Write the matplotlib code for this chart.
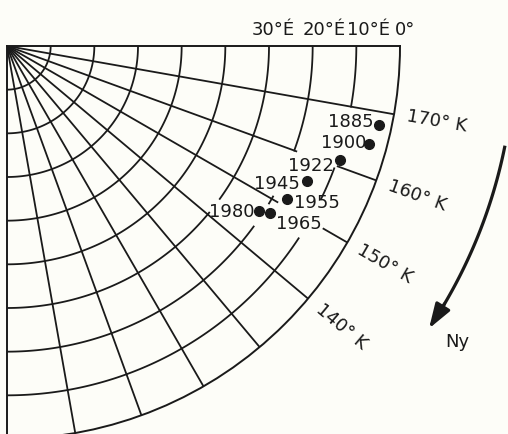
import numpy as np
import matplotlib.pyplot as plt

# pole positions (lat °N, lon °E)
years = [1885, 1900, 1922, 1945, 1955, 1965, 1980]
pole_lat = [2.9, 4.1, 9.4, 14.7, 16.9, 18.7, 21.0]
pole_lon = [168.0, 164.9, 161.1, 155.8, 151.4, 147.6, 146.8]
# where each year label sits relative to its dot (pixels)
label_dx = [-28, -25, -29, -30, 30, 29, -27]
label_dy = [3, 1, -6, -3, -4, -11, -1]

meridians = [170, 160, 150, 140, 130, 120, 110, 100]
parallels = [80, 70, 60, 50, 40, 30, 20, 10]
lat_labels = ['30°É', '20°É', '10°É', '0°']
lat_label_vals = [30, 20, 10, 0]
lat_label_dx = [4, 12, 12, 5]
lon_labels = ['170° K', '160° K', '150° K', '140° K']
lon_label_vals = [170, 160, 150, 140]

# grid lines that are broken around the labels: drawn pieces only
meridian_parts = {160: [(90, 19.5), (9.4, 0)],
                  150: [(90, 18.5), (6.3, 0)]}
parallel_parts = {10: [(180, 170), (159.5, 154), (146.6, 90)],
                  20: [(180, 160), (150.5, 149), (143.8, 90)],
                  30: [(180, 144.3), (140.5, 90)]}

ink = '#1a1a1a'
paper = '#fdfdf8'
fs = 13

fig = plt.figure(figsize=(5.08, 4.34), dpi=100, facecolor=paper)
ax = fig.add_axes([7 / 508, -5 / 434, 393 / 508, 393 / 434], projection='polar')
ax.set_facecolor(paper)
ax.set_theta_offset(-np.pi)
ax.set_thetamin(90)
ax.set_thetamax(180)
ax.set_rlim(0, 90)
ax.set_xticks([])
ax.set_yticks([])
ax.grid(False)
for s in ax.spines.values():
    s.set_color(ink)
    s.set_linewidth(1.4)

# meridians
for lon in meridians:
    parts = meridian_parts.get(lon, [(90, 0)])
    for la0, la1 in parts:
        ax.plot([np.radians(lon)] * 2, [90 - la0, 90 - la1], color=ink, lw=1.3)

# parallels
for lat in parallels:
    parts = parallel_parts.get(lat, [(180, 90)])
    for lo0, lo1 in parts:
        th = np.radians(np.linspace(lo0, lo1, 100))
        ax.plot(th, np.full(th.size, 90 - lat), color=ink, lw=1.3)

# pole positions
ax.plot(np.radians(pole_lon), 90 - np.array(pole_lat), 'o', ms=7, color=ink)
for y, la, lo, dx, dy in zip(years, pole_lat, pole_lon, label_dx, label_dy):
    ax.annotate(str(y), xy=(np.radians(lo), 90 - la), xytext=(dx, dy),
                textcoords='offset pixels', ha='center', va='center',
                fontsize=fs, color=ink)

# latitude labels along the top edge
for txt, la, dx in zip(lat_labels, lat_label_vals, lat_label_dx):
    ax.annotate(txt, xy=(np.pi, 90 - la), xytext=(dx, 11),
                textcoords='offset pixels', ha='center', va='baseline',
                fontsize=fs, color=ink, annotation_clip=False)

# longitude labels outside the rim
for txt, lo in zip(lon_labels, lon_label_vals):
    ax.text(np.radians(lo), 100, txt, rotation=-(180 - lo), rotation_mode='anchor',
            ha='center', va='center', fontsize=fs, color=ink)

# westward arrow
arrow_r = 116.3
th = np.radians(np.linspace(168.5, 149, 80))
ax.plot(th, np.full(th.size, arrow_r), color=ink, lw=2.3, clip_on=False)
ax.annotate('', xy=(np.radians(146.2), arrow_r), xytext=(np.radians(149.5), arrow_r),
            arrowprops=dict(arrowstyle='-|>,head_length=1.5,head_width=0.5',
                            lw=2.3, color=ink, shrinkA=0, shrinkB=0),
            annotation_clip=False)
ax.text(np.radians(146.7), 123.5, 'Ny', ha='center', va='center',
        fontsize=fs, color=ink)

fig.savefig('out.png', dpi=100, facecolor=paper)
